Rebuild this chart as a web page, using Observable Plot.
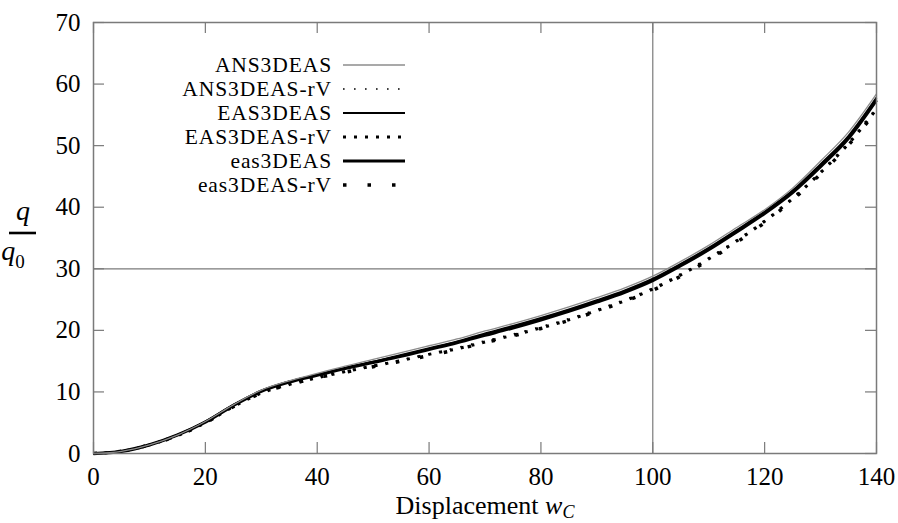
<!DOCTYPE html>
<html><head><meta charset="utf-8">
<script src="https://cdn.jsdelivr.net/npm/d3@7"></script>
<script src="https://cdn.jsdelivr.net/npm/@observablehq/plot@0.6"></script>
<style>body{margin:0;background:#fff}</style>
</head><body><div id="chart"></div>
<script>
// ---- data ----
const xs = [0,5,10,15,20,25,30,35,40,45,50,55,60,65,70,75,80,85,90,95,100,105,110,115,120,125,130,135,140];
const ANS3DEAS     = [0,0.35,1.4,3.0,5.2,7.9,10.3,11.8,13.0,14.2,15.3,16.4,17.5,18.6,19.9,21.1,22.4,23.8,25.3,26.9,28.8,31.2,33.8,36.7,39.6,43.1,47.5,52.2,58.4];
const ANS3DEAS_rV  = [0,0.35,1.4,2.9,5.0,7.7,9.9,11.3,12.4,13.4,14.3,15.2,16.2,17.2,18.3,19.4,20.6,21.9,23.4,25.0,26.9,29.2,31.8,34.7,37.9,41.6,45.8,50.6,56.2];
const EAS3DEAS     = [0,0.35,1.4,3.0,5.2,7.9,10.2,11.7,12.8,13.9,14.9,16.0,17.1,18.2,19.5,20.7,22.0,23.4,24.9,26.5,28.4,30.8,33.4,36.3,39.3,42.7,47.0,51.6,57.8];
const EAS3DEAS_rV  = [0,0.35,1.4,2.9,5.0,7.6,9.8,11.2,12.3,13.3,14.2,15.1,16.1,17.0,18.1,19.2,20.4,21.7,23.2,24.8,26.7,29.0,31.6,34.5,37.7,41.4,45.6,50.3,55.9];
const eas3DEAS     = [0,0.35,1.4,3.0,5.1,7.8,10.1,11.6,12.7,13.8,14.8,15.8,16.9,18.0,19.2,20.4,21.7,23.1,24.6,26.2,28.1,30.5,33.1,36.0,39.0,42.4,46.6,51.2,57.4];
const eas3DEAS_rV  = [0,0.35,1.4,2.9,5.0,7.6,9.8,11.2,12.3,13.2,14.1,15.0,15.9,16.9,18.0,19.1,20.3,21.6,23.1,24.7,26.5,28.8,31.4,34.3,37.5,41.2,45.4,50.1,55.7];
const seriesNames = ["ANS3DEAS","ANS3DEAS-rV","EAS3DEAS","EAS3DEAS-rV","eas3DEAS","eas3DEAS-rV"];
const seriesValues = [ANS3DEAS, ANS3DEAS_rV, EAS3DEAS, EAS3DEAS_rV, eas3DEAS, eas3DEAS_rV];
const xTicks = [0,20,40,60,80,100,120,140];
const yTicks = [0,10,20,30,40,50,60,70];
const refX = [100];
const refY = [30];
const xLabel = "Displacement ";
const xLabelVar = "w";
const xLabelSub = "C";

// ---- styles ----
const styles = [
  {stroke:"#8c8c8c", strokeWidth:1.3, dash:null},
  {stroke:"#000", strokeWidth:1.6, dash:"1.6,9.4"},
  {stroke:"#000", strokeWidth:2.0, dash:null},
  {stroke:"#000", strokeWidth:3.0, dash:"3,8"},
  {stroke:"#000", strokeWidth:3.2, dash:null},
  {stroke:"#000", strokeWidth:3.5, dash:"3.5,21"}
];
const W = 898, H = 523, mL = 93, mR = 22, mT = 22, mB = 70;
const pw = W - mL - mR, ph = H - mT - mB;
const FONT = "'Liberation Serif','DejaVu Serif',serif";
const gray = "#7a7a7a";

const rows = seriesNames.flatMap((name, i) => xs.map((x, j) => ({series: name, x, y: seriesValues[i][j]})));
const order = [5,3,1,4,2,0];

const svg = Plot.plot({
  width: W, height: H,
  marginLeft: mL, marginRight: mR, marginTop: mT, marginBottom: mB,
  style: {fontFamily: FONT, fontSize: "25px", background: "#fff", color: "#000"},
  x: {domain: [0, 140]},
  y: {domain: [0, 70]},
  marks: [
    Plot.ruleX(refX, {stroke: gray, strokeWidth: 1.2}),
    Plot.ruleY(refY, {stroke: gray, strokeWidth: 1.2}),
    Plot.tickX(xTicks, {x: d => d, stroke: gray, strokeWidth: 1.2, insetTop: ph - 11}),
    Plot.tickX(xTicks, {x: d => d, stroke: gray, strokeWidth: 1.2, insetBottom: ph - 11}),
    Plot.tickY(yTicks, {y: d => d, stroke: gray, strokeWidth: 1.2, insetRight: pw - 11}),
    Plot.tickY(yTicks, {y: d => d, stroke: gray, strokeWidth: 1.2, insetLeft: pw - 11}),
    ...order.map(i => Plot.line(rows.filter(d => d.series === seriesNames[i]), {
      x: "x", y: "y", curve: "monotone-x",
      stroke: styles[i].stroke, strokeWidth: styles[i].strokeWidth,
      strokeDasharray: styles[i].dash, strokeLinecap: "butt"
    })),
    Plot.frame({stroke: gray, strokeWidth: 1.5}),
    Plot.axisX({ticks: xTicks, tickSize: 0, tickPadding: 14, label: null, fontSize: 25}),
    Plot.axisY({ticks: yTicks, tickSize: 0, tickPadding: 13, label: null, fontSize: 25})
  ]
});
document.getElementById("chart").appendChild(svg);

const s = d3.select(svg);
// x-axis label
const xl = s.append("text").attr("x", 485).attr("y", 514).attr("text-anchor", "middle")
  .style("font-family", FONT).style("font-size", "26px").attr("fill", "#000");
xl.append("tspan").text(xLabel);
xl.append("tspan").attr("font-style", "italic").text(xLabelVar);
xl.append("tspan").attr("font-style", "italic").attr("font-size", "18px").attr("dy", 4).text(xLabelSub);

// y-axis label as fraction q / q0
const yl = s.append("g").style("font-family", FONT).attr("fill", "#000");
yl.append("text").attr("x", 23).attr("y", 220).attr("text-anchor", "middle")
  .style("font-size", "28px").attr("font-style", "italic").text("q");
yl.append("line").attr("x1", 9).attr("x2", 36).attr("y1", 233).attr("y2", 233)
  .attr("stroke", "#000").attr("stroke-width", 2.6);
const q0 = yl.append("text").attr("x", 13).attr("y", 260).style("font-size", "28px");
q0.append("tspan").attr("font-style", "italic").text("q");
q0.append("tspan").attr("font-size", "19px").attr("dy", 8).text("0");

// legend
const lg = s.append("g").style("font-family", FONT);
seriesNames.forEach((name, i) => {
  const y = 65 + i * 24;
  lg.append("text").attr("x", 332).attr("y", y + 7).attr("text-anchor", "end")
    .style("font-size", "21.5px").style("letter-spacing", "0.9px").attr("fill", "#000").text(name);
  lg.append("line").attr("x1", 343).attr("x2", 405).attr("y1", y).attr("y2", y)
    .attr("stroke", styles[i].stroke).attr("stroke-width", styles[i].strokeWidth)
    .attr("stroke-dasharray", styles[i].dash).attr("stroke-linecap", "butt");
});
</script>
</body></html>
